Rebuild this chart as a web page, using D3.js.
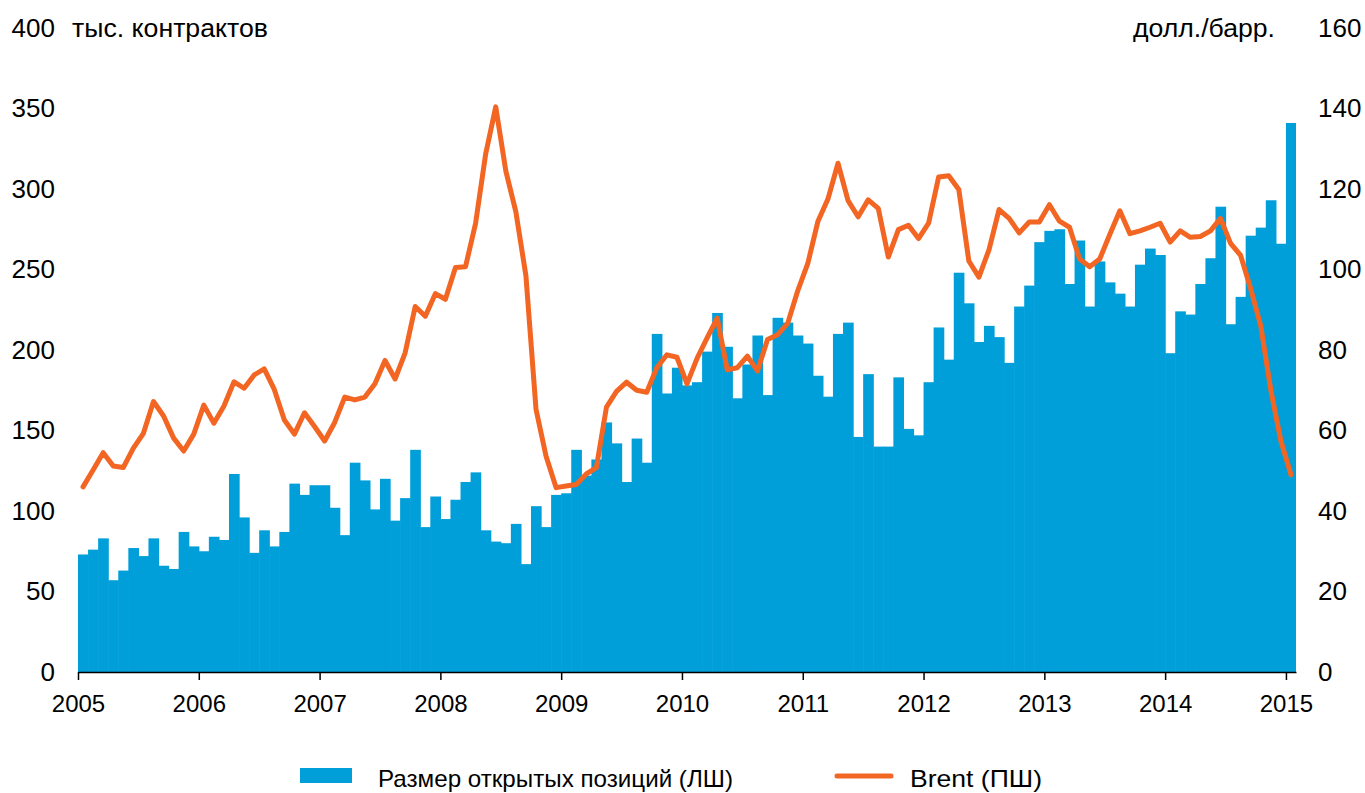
<!DOCTYPE html>
<html>
<head>
<meta charset="utf-8">
<script src="https://cdn.jsdelivr.net/npm/d3@7"></script>
<style>
  html, body { margin: 0; padding: 0; background: #fff; }
  svg { display: block; font-family: "Liberation Sans", Arial, sans-serif; }
  text { fill: #000; }
</style>
</head>
<body>
<svg id="chart" width="1365" height="793"></svg>
<script>
// ---- data ----
const years = ["2005","2006","2007","2008","2009","2010","2011","2012","2013","2014","2015"];
const openInterest = [
  73, 76, 83, 57, 63, 77, 72, 83, 66, 64, 87, 78,
  75, 84, 82, 123, 96, 74, 88, 78, 87, 117, 110, 116,
  116, 102, 85, 130, 119, 101, 120, 94, 108, 138, 90, 109,
  95, 107, 118, 124, 88, 81, 80, 92, 67, 103, 90, 110,
  111, 138, 122, 132, 155, 142, 118, 145, 130, 210, 173, 189,
  178, 180, 199, 223, 202, 170, 191, 209, 172, 220, 217, 209,
  204, 184, 171, 210, 217, 146, 185, 140, 140, 183, 151, 147,
  180, 214, 194, 248, 229, 205, 215, 208, 192, 227, 240, 267,
  274, 275, 241, 268, 227, 255, 242, 235, 227, 253, 263, 259,
  198, 224, 222, 241, 257, 289, 216, 233, 271, 276, 293, 266,
  341
];
const brent = [
  46, 50.2, 54.5, 51.2, 50.8, 55.6, 59.3, 67.2, 63.6, 58.1, 54.9, 59.1,
  66.3, 61.8, 66.1, 72.1, 70.5, 73.8, 75.3, 70.2, 62.6, 59.1, 64.4, 61,
  57.4, 62, 68.3, 67.6, 68.3, 71.6, 77.4, 72.8, 79.3, 90.8, 88.4, 94,
  92.6, 100.5, 100.7, 111.5, 128.7, 140.4, 124.5, 114.3, 98.4, 65.3, 53.6, 45.8,
  46.2, 46.6, 49.2, 50.8, 65.8, 69.7, 72, 70, 69.5, 75.6, 78.8, 78.2,
  71.6, 77.9, 83, 87.9, 75.1, 75.6, 78.5, 74.8, 82.6, 83.8, 86.6, 94.7,
  101.5, 111.9, 117.5, 126.4, 117.1, 113.1, 117.3, 115.2, 103.1, 109.9, 111, 107.7,
  111.5, 123, 123.3, 119.9, 102.1, 98.1, 104.9, 114.9, 112.7, 109.1, 111.8, 111.8,
  116.1, 112, 110.5, 102.6, 100.7, 102.6, 108.7, 114.6, 108.9, 109.6, 110.5, 111.5,
  106.8, 109.6, 108, 108.2, 109.6, 112.7, 106.5, 103.5, 95.2, 86, 70, 57.4,
  49
];
const leftTicks = [0, 50, 100, 150, 200, 250, 300, 350, 400];
const rightTicks = [0, 20, 40, 60, 80, 100, 120, 140, 160];
const leftUnit = "тыс. контрактов";
const rightUnit = "долл./барр.";
const legendLabels = ["Размер открытых позиций (ЛШ)", "Brent (ПШ)"];

// ---- styles ----
const barColor = "#009fda";
const lineColor = "#f26522";
const fontFam = "Liberation Sans, Arial, sans-serif";

const svg = d3.select("#chart");
const x = d3.scaleLinear().domain([0, openInterest.length]).range([78, 1296]);
const yL = d3.scaleLinear().domain([0, 400]).range([672, 28]);
const yR = d3.scaleLinear().domain([0, 160]).range([672, 28]);

// bars
svg.append("g").selectAll("rect").data(openInterest).join("rect")
  .attr("x", (d, i) => x(i))
  .attr("width", (d, i) => x(i + 1) - x(i) + (i < openInterest.length - 1 ? 0.6 : 0))
  .attr("y", d => yL(d))
  .attr("height", d => yL(0) - yL(d))
  .attr("fill", barColor);

// line
const line = d3.line().x((d, i) => x(i + 0.5)).y(d => yR(d));
svg.append("path").datum(brent)
  .attr("d", line)
  .attr("fill", "none")
  .attr("stroke", lineColor)
  .attr("stroke-width", 5)
  .attr("stroke-linejoin", "round")
  .attr("stroke-linecap", "round");

// x axis
const xAxis = d3.axisBottom(x)
  .tickValues(years.map((y, i) => i * 12))
  .tickFormat((d, i) => years[i])
  .tickSize(8)
  .tickSizeOuter(0)
  .tickPadding(15);
const gx = svg.append("g").attr("transform", "translate(0,672)").call(xAxis);
gx.select(".domain").attr("stroke", "#000").attr("stroke-width", 1.5);
gx.selectAll(".tick line").attr("stroke", "#000").attr("stroke-width", 1.5);
gx.selectAll(".tick text").attr("font-size", 24).attr("fill", "#000")
  .attr("font-family", fontFam);

// left axis
const gl = svg.append("g").attr("transform", "translate(55,0)")
  .call(d3.axisLeft(yL).tickValues(leftTicks).tickSize(0).tickPadding(0));
gl.select(".domain").remove();
gl.selectAll(".tick text").attr("font-size", 26).attr("fill", "#000")
  .attr("font-family", fontFam);

// right axis
const gr = svg.append("g").attr("transform", "translate(1318,0)")
  .call(d3.axisRight(yR).tickValues(rightTicks).tickSize(0).tickPadding(0));
gr.select(".domain").remove();
gr.selectAll(".tick text").attr("font-size", 26).attr("fill", "#000")
  .attr("font-family", fontFam);

// unit labels
svg.append("text").attr("x", 72).attr("y", 37).attr("font-size", 25)
  .attr("textLength", 196).attr("lengthAdjust", "spacingAndGlyphs").text(leftUnit);
svg.append("text").attr("x", 1133).attr("y", 37).attr("font-size", 25)
  .attr("textLength", 142).attr("lengthAdjust", "spacingAndGlyphs").text(rightUnit);

// legend
const lg = svg.append("g");
lg.append("rect").attr("x", 300).attr("y", 768).attr("width", 52).attr("height", 15).attr("fill", barColor);
lg.append("text").attr("x", 378).attr("y", 787).attr("font-size", 24)
  .attr("textLength", 355).attr("lengthAdjust", "spacingAndGlyphs").text(legendLabels[0]);
lg.append("line").attr("x1", 837).attr("x2", 891).attr("y1", 776).attr("y2", 776)
  .attr("stroke", lineColor).attr("stroke-width", 5).attr("stroke-linecap", "round");
lg.append("text").attr("x", 910).attr("y", 787).attr("font-size", 24)
  .attr("textLength", 132).attr("lengthAdjust", "spacingAndGlyphs").text(legendLabels[1]);
</script>
</body>
</html>
